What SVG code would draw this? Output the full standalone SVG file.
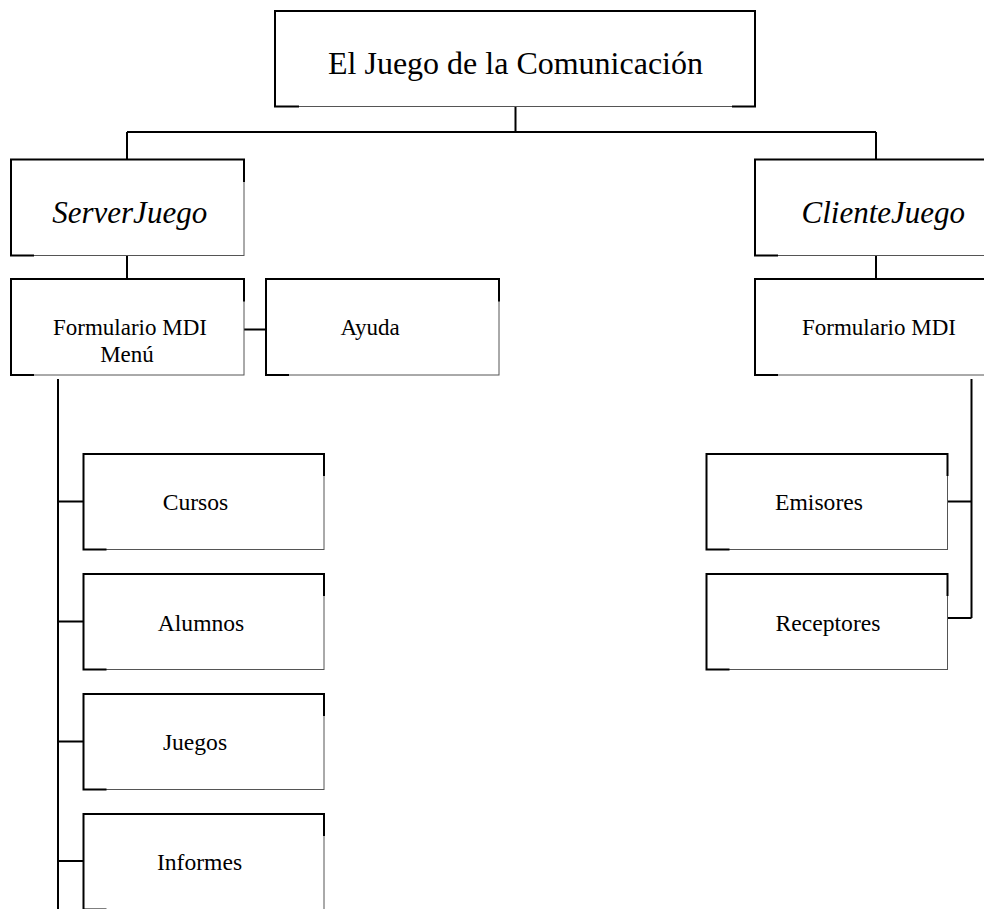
<svg xmlns="http://www.w3.org/2000/svg" width="984" height="909" viewBox="0 0 984 909">
<style>
.thin{fill:#fff;stroke:#555;stroke-width:1}
.thick{fill:none;stroke:#000;stroke-width:2}
.conn{fill:none;stroke:#000;stroke-width:2}
text{font-family:"Liberation Serif","Times New Roman",serif;fill:#000;text-anchor:middle}
.t{font-size:23px}
.s{font-size:23.6px}
.big{font-size:32px}
.it{font-size:31px;font-style:italic}
</style>
<rect width="984" height="909" fill="#fff"/>
<g id="connectors">
<path class="conn" d="M515.5,106.5V132M127,132H876M127,132V159.5M876,132V159.5"/>
<path class="conn" d="M127,255.5V279M876,255.5V279M244,329.5H266"/>
<path class="conn" d="M58,379V909M58,501.5H83.5M58,621.5H83.5M58,741.5H83.5M58,861H83.5"/>
<path class="conn" d="M971.5,379V618M947.5,501.5H971.5M947.5,618H971.5"/>
</g>
<g id="root">
<rect class="thin" x="275" y="11" width="480" height="95.5"/>
<path class="thick" d="M299,106.5H275V11H755V106.5H732"/>
<text class="big" x="515.5" y="74">El Juego de la Comunicación</text>
</g>
<g id="serverjuego">
<rect class="thin" x="11" y="159.5" width="233" height="96"/>
<path class="thick" d="M34,255.5H11V159.5H244V182"/>
<text class="it" x="129.7" y="222.7">ServerJuego</text>
</g>
<g id="clientejuego">
<rect class="thin" x="755" y="159.5" width="233" height="96"/>
<path class="thick" d="M778,255.5H755V159.5H988"/>
<text class="it" x="883.3" y="222.7">ClienteJuego</text>
</g>
<g id="formulario-server">
<rect class="thin" x="11" y="279" width="233" height="96"/>
<path class="thick" d="M34,375H11V279H244V301.5"/>
<text class="t" x="130" y="335">Formulario MDI</text>
<text class="t" x="127" y="361.7">Menú</text>
</g>
<g id="ayuda">
<rect class="thin" x="266" y="279" width="233" height="96"/>
<path class="thick" d="M289,375H266V279H499V301.5"/>
<text class="t" x="370" y="335">Ayuda</text>
</g>
<g id="formulario-cliente">
<rect class="thin" x="755" y="279" width="233" height="96"/>
<path class="thick" d="M778,375H755V279H988"/>
<text class="t" x="879" y="335">Formulario MDI</text>
</g>
<g id="cursos">
<rect class="thin" x="83.5" y="454" width="240.5" height="95.5"/>
<path class="thick" d="M106.5,549.5H83.5V454H324V476"/>
<text class="s" x="195.5" y="510">Cursos</text>
</g>
<g id="alumnos">
<rect class="thin" x="83.5" y="574" width="240.5" height="95.5"/>
<path class="thick" d="M106.5,669.5H83.5V574H324V596"/>
<text class="s" x="201" y="630.5">Alumnos</text>
</g>
<g id="juegos">
<rect class="thin" x="83.5" y="694" width="240.5" height="95.5"/>
<path class="thick" d="M106.5,789.5H83.5V694H324V716"/>
<text class="s" x="195" y="750">Juegos</text>
</g>
<g id="informes">
<rect class="thin" x="83.5" y="814" width="240.5" height="95.5"/>
<path class="thick" d="M106.5,909.5H83.5V814H324V836"/>
<text class="s" x="199.5" y="870">Informes</text>
</g>
<g id="emisores">
<rect class="thin" x="706.5" y="454" width="241" height="95.5"/>
<path class="thick" d="M729.5,549.5H706.5V454H947.5V476"/>
<text class="s" x="819" y="510">Emisores</text>
</g>
<g id="receptores">
<rect class="thin" x="706.5" y="574" width="241" height="95.5"/>
<path class="thick" d="M729.5,669.5H706.5V574H947.5V596"/>
<text class="s" x="828" y="630.5">Receptores</text>
</g>
</svg>
